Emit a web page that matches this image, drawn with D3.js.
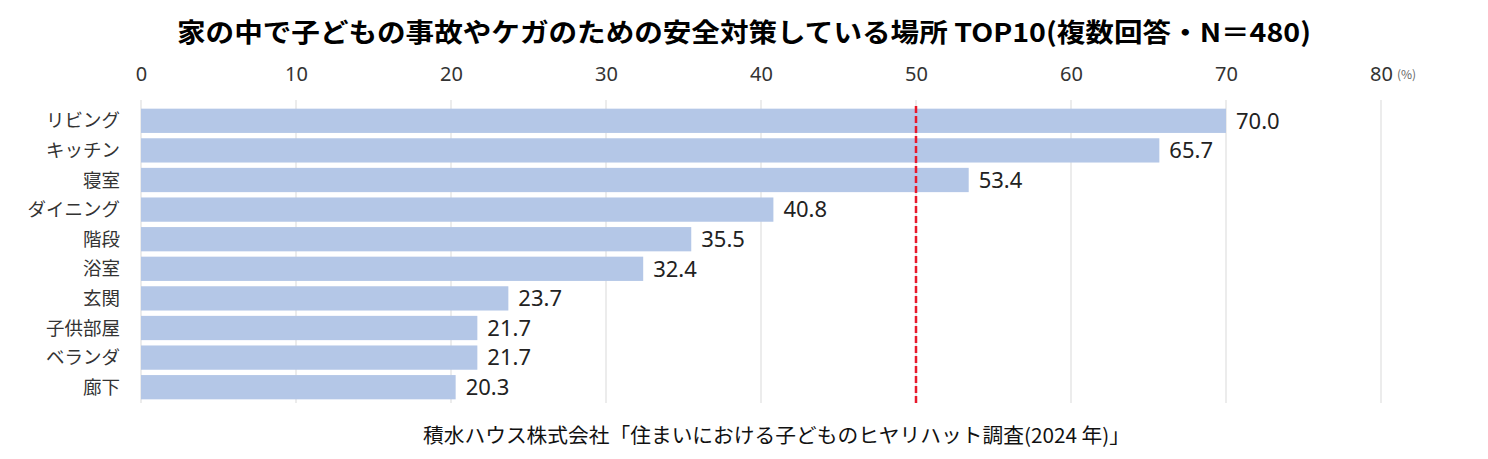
<!DOCTYPE html>
<html>
<head>
<meta charset="utf-8">
<script src="https://cdn.jsdelivr.net/npm/d3@7"></script>
<style>
  body { margin: 0; background: #fff; }
  text { font-family: "Noto Sans CJK JP", "Noto Sans", sans-serif; }
</style>
</head>
<body>
<div id="chart"></div>
<script>
// data
const places = ["リビング", "キッチン", "寝室", "ダイニング", "階段", "浴室", "玄関", "子供部屋", "ベランダ", "廊下"];
const rates = [70.0, 65.7, 53.4, 40.8, 35.5, 32.4, 23.7, 21.7, 21.7, 20.3];
const xTicks = [0, 10, 20, 30, 40, 50, 60, 70, 80];
const refLine = 50;

const titleText = "家の中で子どもの事故やケガのための安全対策している場所 TOP10(複数回答・N＝480)";
const sourceText = "積水ハウス株式会社「住まいにおける子どものヒヤリハット調査(2024 年)」";

const width = 1488, height = 459;

const svg = d3.select("#chart").append("svg")
    .attr("width", width)
    .attr("height", height);

const x = d3.scaleLinear()
    .domain([0, 80])
    .range([141, 1381]);

const y = d3.scaleBand()
    .domain(places)
    .range([106, 402])
    .paddingInner(0.18)
    .paddingOuter(0.09);

// title
svg.append("text")
    .attr("x", 177)
    .attr("y", 42)
    .attr("font-size", 26)
    .attr("font-weight", "bold")
    .attr("fill", "#000")
    .attr("textLength", 1134)
    .attr("lengthAdjust", "spacingAndGlyphs")
    .text(titleText);

// grid lines
svg.append("g")
    .selectAll("line")
    .data(xTicks)
    .enter().append("line")
    .attr("x1", d => x(d))
    .attr("x2", d => x(d))
    .attr("y1", 100)
    .attr("y2", 403)
    .attr("stroke", "#d9d9d9")
    .attr("stroke-width", 1);

// top axis labels
const axis = svg.append("g")
    .attr("transform", "translate(0, 89)")
    .call(d3.axisTop(x).tickValues(xTicks).tickSize(0).tickPadding(8));
axis.select(".domain").remove();
axis.selectAll("text")
    .attr("font-size", 20)
    .attr("fill", "#333")
    .style("font-family", "\"Noto Sans\", sans-serif");

svg.append("text")
    .attr("x", x(80) + 16)
    .attr("y", 79)
    .attr("font-size", 12)
    .attr("fill", "#666")
    .text("(%)");

// bars
svg.append("g")
    .selectAll("rect")
    .data(places)
    .enter().append("rect")
    .attr("x", x(0))
    .attr("y", d => y(d))
    .attr("width", (d, i) => x(rates[i]) - x(0))
    .attr("height", y.bandwidth())
    .attr("fill", "#b4c7e7");

// value labels
svg.append("g")
    .selectAll("text")
    .data(places)
    .enter().append("text")
    .attr("x", (d, i) => x(rates[i]) + 10)
    .attr("y", d => y(d) + y.bandwidth() / 2)
    .attr("dy", "0.35em")
    .attr("font-size", 22)
    .attr("fill", "#222")
    .style("font-family", "\"Noto Sans\", sans-serif")
    .text((d, i) => rates[i].toFixed(1));

// category labels
svg.append("g")
    .selectAll("text")
    .data(places)
    .enter().append("text")
    .attr("x", 120)
    .attr("y", d => y(d) + y.bandwidth() / 2)
    .attr("dy", "0.36em")
    .attr("text-anchor", "end")
    .attr("font-size", 18.5)
    .attr("fill", "#333")
    .text(d => d);

// 50% reference line
svg.append("line")
    .attr("x1", x(refLine))
    .attr("x2", x(refLine))
    .attr("y1", 106)
    .attr("y2", 403)
    .attr("stroke", "#e8192c")
    .attr("stroke-width", 2.5)
    .attr("stroke-dasharray", "7,3");

// source
svg.append("text")
    .attr("x", 423)
    .attr("y", 443)
    .attr("font-size", 20)
    .attr("fill", "#111")
    .attr("textLength", 707)
    .attr("lengthAdjust", "spacingAndGlyphs")
    .text(sourceText);
</script>
</body>
</html>
